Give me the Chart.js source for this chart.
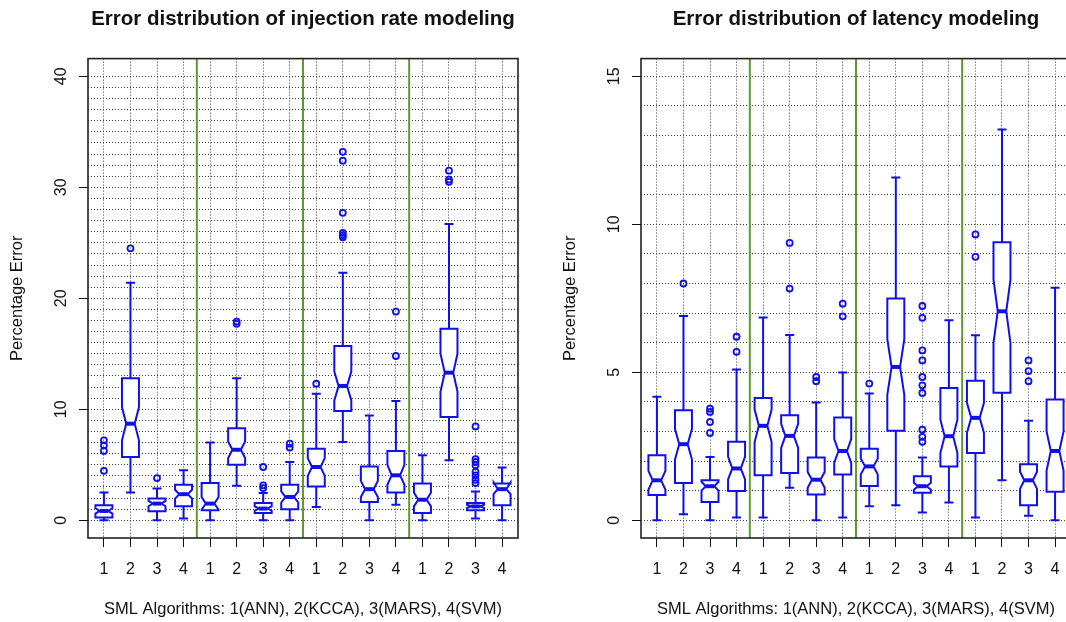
<!DOCTYPE html>
<html>
<head>
<meta charset="utf-8">
<script src="https://cdn.jsdelivr.net/npm/chart.js@4.4.0/dist/chart.umd.min.js"></script>
<style>
html,body{margin:0;padding:0;background:#fff;overflow:hidden;width:1066px;height:622px;}
.wrap{position:absolute;top:0;width:533px;height:622px;}
#wrapA{left:0;}
#wrapB{left:553px;}
</style>
</head>
<body>
<div class="wrap" id="wrapA"><canvas id="cA" width="533" height="622"></canvas></div>
<div class="wrap" id="wrapB"><canvas id="cB" width="533" height="622"></canvas></div>
<script>
// ---------- categories / labels ----------
const boxPositions = [1,2,3,4,5,6,7,8,9,10,11,12,13,14,15,16];
const algorithmLabels = ['1','2','3','4'];          // 1(ANN) 2(KCCA) 3(MARS) 4(SVM), repeated per group
const groupSeparators = [4.5, 8.5, 12.5];
const injYTickLabels = [0, 10, 20, 30, 40];
const latYTickLabels = [0, 5, 10, 15];

// ---------- injection rate modeling (left) ----------
const injLow     = [0.0, 2.5, 0.0, 0.15, 0.0, 3.1, 0.0, 0.0, 1.2, 7.05, 0.0, 1.4, 0.0, 5.4, 0.15, 0.0];
const injQ1      = [0.24, 5.7, 0.8, 1.25, 0.9, 5.0, 0.65, 1.0, 3.05, 9.85, 1.65, 2.5, 0.65, 9.3, 0.9, 1.35];
const injNotchLo = [0.6, 7.2, 1.26, 1.95, 0.95, 5.6, 0.86, 1.6, 4.0, 10.8, 2.1, 3.2, 1.25, 11.6, 1.1, 2.35];
const injMedian  = [0.84, 8.7, 1.5, 2.35, 1.5, 6.35, 1.05, 2.1, 4.8, 12.1, 2.8, 4.05, 1.85, 13.3, 1.25, 2.8];
const injNotchHi = [1.08, 10.2, 1.74, 2.75, 2.1, 7.1, 1.24, 2.6, 5.6, 13.4, 3.55, 5.0, 2.5, 15.0, 1.4, 3.4];
const injQ3      = [1.35, 12.8, 1.95, 3.2, 3.35, 8.3, 1.55, 3.2, 6.45, 15.7, 4.85, 6.25, 3.3, 17.25, 1.55, 3.3];
const injHigh    = [2.5, 21.4, 2.85, 4.5, 7.0, 12.8, 2.45, 5.25, 11.4, 22.3, 9.45, 10.75, 5.85, 26.7, 2.6, 4.75];
const injOutliers = [
  [4.45, 6.25, 6.75, 7.2],
  [24.5],
  [3.8],
  [],
  [],
  [17.7, 17.9],
  [2.9, 3.15, 4.8],
  [6.55, 6.9],
  [12.3],
  [25.5, 25.7, 25.9, 27.7, 32.4, 33.2],
  [],
  [14.8, 18.8],
  [],
  [30.5, 30.7, 31.5],
  [3.35, 3.65, 4.05, 4.35, 4.95, 5.25, 5.5, 8.45],
  []
];

// ---------- latency modeling (right) ----------
const latLow     = [0.0, 0.2, 0.0, 0.09, 0.09, 1.1, 0.0, 0.09, 0.47, 0.51, 0.26, 0.6, 0.09, 1.35, 0.15, 0.0];
const latQ1      = [0.85, 1.26, 0.62, 0.99, 1.52, 1.6, 0.87, 1.55, 1.16, 3.02, 0.93, 1.82, 2.27, 4.31, 0.51, 0.96];
const latNotchLo = [1.03, 2.05, 1.0, 1.38, 2.64, 2.44, 1.1, 1.94, 1.55, 4.24, 1.03, 2.28, 2.95, 5.99, 1.06, 1.68];
const latMedian  = [1.35, 2.57, 1.15, 1.75, 3.19, 2.85, 1.37, 2.34, 1.82, 5.18, 1.15, 2.84, 3.46, 7.06, 1.35, 2.34];
const latNotchHi = [1.67, 3.09, 1.3, 2.15, 3.74, 3.26, 1.63, 2.74, 2.09, 6.12, 1.27, 3.4, 3.97, 8.13, 1.64, 3.0];
const latQ3      = [2.2, 3.72, 1.35, 2.65, 4.13, 3.55, 2.12, 3.47, 2.42, 7.49, 1.49, 4.47, 4.71, 9.39, 1.89, 4.08];
const latHigh    = [4.17, 6.9, 2.14, 5.09, 6.85, 6.26, 3.98, 4.99, 4.28, 11.58, 2.12, 6.76, 6.25, 13.2, 3.36, 7.86];
const latOutliers = [
  [],
  [8.0],
  [2.95, 3.32, 3.66, 3.77],
  [5.69, 6.2],
  [],
  [7.83, 9.37],
  [4.7, 4.84],
  [6.89, 7.32],
  [4.62],
  [],
  [2.65, 2.82, 3.06, 4.3, 4.56, 4.84, 5.4, 5.74, 6.84, 7.24],
  [],
  [8.9, 9.66],
  [],
  [4.7, 5.04, 5.4],
  []
];

// ---------- styling ----------
const FONT = "'Liberation Sans', Arial, Helvetica, sans-serif";
const BLUE = '#1010e8';
const GREEN = '#5e9a2e';
const GRID = '#3c3c3c';
const BOX_HALF = 0.32, NOTCH_HALF = 0.16, STAPLE_HALF = 0.17;

function makeChart(canvasId, titleText, st, yMin, yMax, gridMax, yLabels) {
  const outPts = [];
  st.out.forEach((arr, i) => arr.forEach(v => outPts.push({x: boxPositions[i], y: v})));
  const gridVals = [];
  for (let v = 0; v <= gridMax; v++) gridVals.push(v);

  const boxPlugin = {
    id: 'boxes_' + canvasId,
    beforeDatasetsDraw(chart) {
      const {ctx, chartArea: a, scales: {x, y}} = chart;
      ctx.save();
      // group separators
      ctx.strokeStyle = GREEN; ctx.lineWidth = 2;
      groupSeparators.forEach(s => {
        const px = x.getPixelForValue(s);
        ctx.beginPath(); ctx.moveTo(px, a.top); ctx.lineTo(px, a.bottom); ctx.stroke();
      });
      const unit = x.getPixelForValue(2) - x.getPixelForValue(1);
      const bw = BOX_HALF * unit, nw = NOTCH_HALF * unit, sw = STAPLE_HALF * unit;
      ctx.strokeStyle = BLUE; ctx.lineJoin = 'miter';
      boxPositions.forEach((pos, i) => {
        const cx = x.getPixelForValue(pos);
        const yLow = y.getPixelForValue(st.low[i]), yHigh = y.getPixelForValue(st.high[i]);
        const yQ1 = y.getPixelForValue(st.q1[i]), yQ3 = y.getPixelForValue(st.q3[i]);
        const yNl = y.getPixelForValue(st.nlo[i]), yNh = y.getPixelForValue(st.nhi[i]);
        const yMed = y.getPixelForValue(st.med[i]);
        // whiskers
        ctx.lineWidth = 2;
        ctx.beginPath();
        ctx.moveTo(cx, yQ3); ctx.lineTo(cx, yHigh);
        ctx.moveTo(cx, yQ1); ctx.lineTo(cx, yLow);
        ctx.moveTo(cx - sw, yHigh); ctx.lineTo(cx + sw, yHigh);
        ctx.moveTo(cx - sw, yLow); ctx.lineTo(cx + sw, yLow);
        ctx.stroke();
        // notched box
        ctx.beginPath();
        ctx.moveTo(cx - bw, yQ1);
        ctx.lineTo(cx - bw, yNl);
        ctx.lineTo(cx - nw, yMed);
        ctx.lineTo(cx - bw, yNh);
        ctx.lineTo(cx - bw, yQ3);
        ctx.lineTo(cx + bw, yQ3);
        ctx.lineTo(cx + bw, yNh);
        ctx.lineTo(cx + nw, yMed);
        ctx.lineTo(cx + bw, yNl);
        ctx.lineTo(cx + bw, yQ1);
        ctx.closePath();
        ctx.fillStyle = '#fff'; ctx.fill();
        ctx.stroke();
        // median
        ctx.lineWidth = 4;
        ctx.beginPath(); ctx.moveTo(cx - nw, yMed); ctx.lineTo(cx + nw, yMed); ctx.stroke();
      });
      ctx.restore();
    },
    afterDraw(chart) {
      const {ctx, chartArea: a, scales: {y}} = chart;
      ctx.save();
      ctx.strokeStyle = '#222'; ctx.lineWidth = 1.6;
      ctx.strokeRect(a.left, a.top, a.right - a.left, a.bottom - a.top);
      ctx.fillStyle = '#111';
      ctx.font = '16px ' + FONT;
      ctx.textAlign = 'center'; ctx.textBaseline = 'middle';
      yLabels.forEach(v => {
        const py = y.getPixelForValue(v);
        ctx.save(); ctx.translate(a.left - 26, py); ctx.rotate(-Math.PI / 2);
        ctx.fillText(String(v), 0, 0);
        ctx.restore();
      });
      ctx.restore();
    }
  };

  return new Chart(document.getElementById(canvasId), {
    type: 'scatter',
    data: {
      datasets: [{
        data: outPts,
        pointStyle: 'circle',
        pointRadius: 3,
        pointHoverRadius: 3,
        pointBorderWidth: 1.8,
        pointBorderColor: BLUE,
        pointBackgroundColor: 'rgba(0,0,0,0)',
        showLine: false
      }]
    },
    options: {
      responsive: false,
      animation: false,
      events: [],
      layout: {padding: {left: 0, right: 15, top: 0, bottom: 0}},
      plugins: {
        legend: {display: false},
        tooltip: {enabled: false},
        title: {
          display: true, text: titleText, fullSize: false, color: '#111',
          font: {family: FONT, size: 20.5, weight: 'bold'},
          padding: {top: 7, bottom: 27}
        }
      },
      scales: {
        x: {
          type: 'linear', min: 0.4, max: 16.6,
          afterBuildTicks: s => { s.ticks = boxPositions.map(v => ({value: v})); },
          afterFit: s => { s.height = 84; },
          ticks: {
            autoSkip: false, maxRotation: 0, minRotation: 0, padding: 13,
            color: '#111', font: {family: FONT, size: 16},
            callback: v => algorithmLabels[(v - 1) % 4]
          },
          grid: {color: GRID, lineWidth: 1, drawTicks: true, tickLength: 9,
                 tickColor: '#111', tickWidth: 1, tickBorderDash: []},
          border: {display: false, dash: [1, 2]},
          title: {display: true, text: 'SML Algorithms: 1(ANN), 2(KCCA), 3(MARS), 4(SVM)',
                  color: '#111', font: {family: FONT, size: 16.5}, padding: {top: 0, bottom: 3}}
        },
        y: {
          type: 'linear', min: yMin, max: yMax,
          afterBuildTicks: s => { s.ticks = gridVals.map(v => ({value: v})); },
          afterFit: s => { s.width = 88; },
          ticks: {display: false},
          grid: {color: GRID, lineWidth: 1, drawTicks: true, tickLength: 9,
                 tickColor: c => (c.tick && yLabels.includes(c.tick.value)) ? '#111' : 'rgba(0,0,0,0)',
                 tickWidth: 1, tickBorderDash: []},
          border: {display: false, dash: [1, 2]},
          title: {display: true, text: 'Percentage Error', color: '#111',
                  font: {family: FONT, size: 16.5}, padding: {top: 8, bottom: 0}}
        }
      }
    },
    plugins: [boxPlugin]
  });
}

makeChart('cA', 'Error distribution of injection rate modeling',
  {low: injLow, q1: injQ1, nlo: injNotchLo, med: injMedian, nhi: injNotchHi, q3: injQ3, high: injHigh, out: injOutliers},
  -1.6, 41.6, 40, injYTickLabels);

makeChart('cB', 'Error distribution of latency modeling',
  {low: latLow, q1: latQ1, nlo: latNotchLo, med: latMedian, nhi: latNotchHi, q3: latQ3, high: latHigh, out: latOutliers},
  -0.6, 15.6, 15, latYTickLabels);
</script>
</body>
</html>
